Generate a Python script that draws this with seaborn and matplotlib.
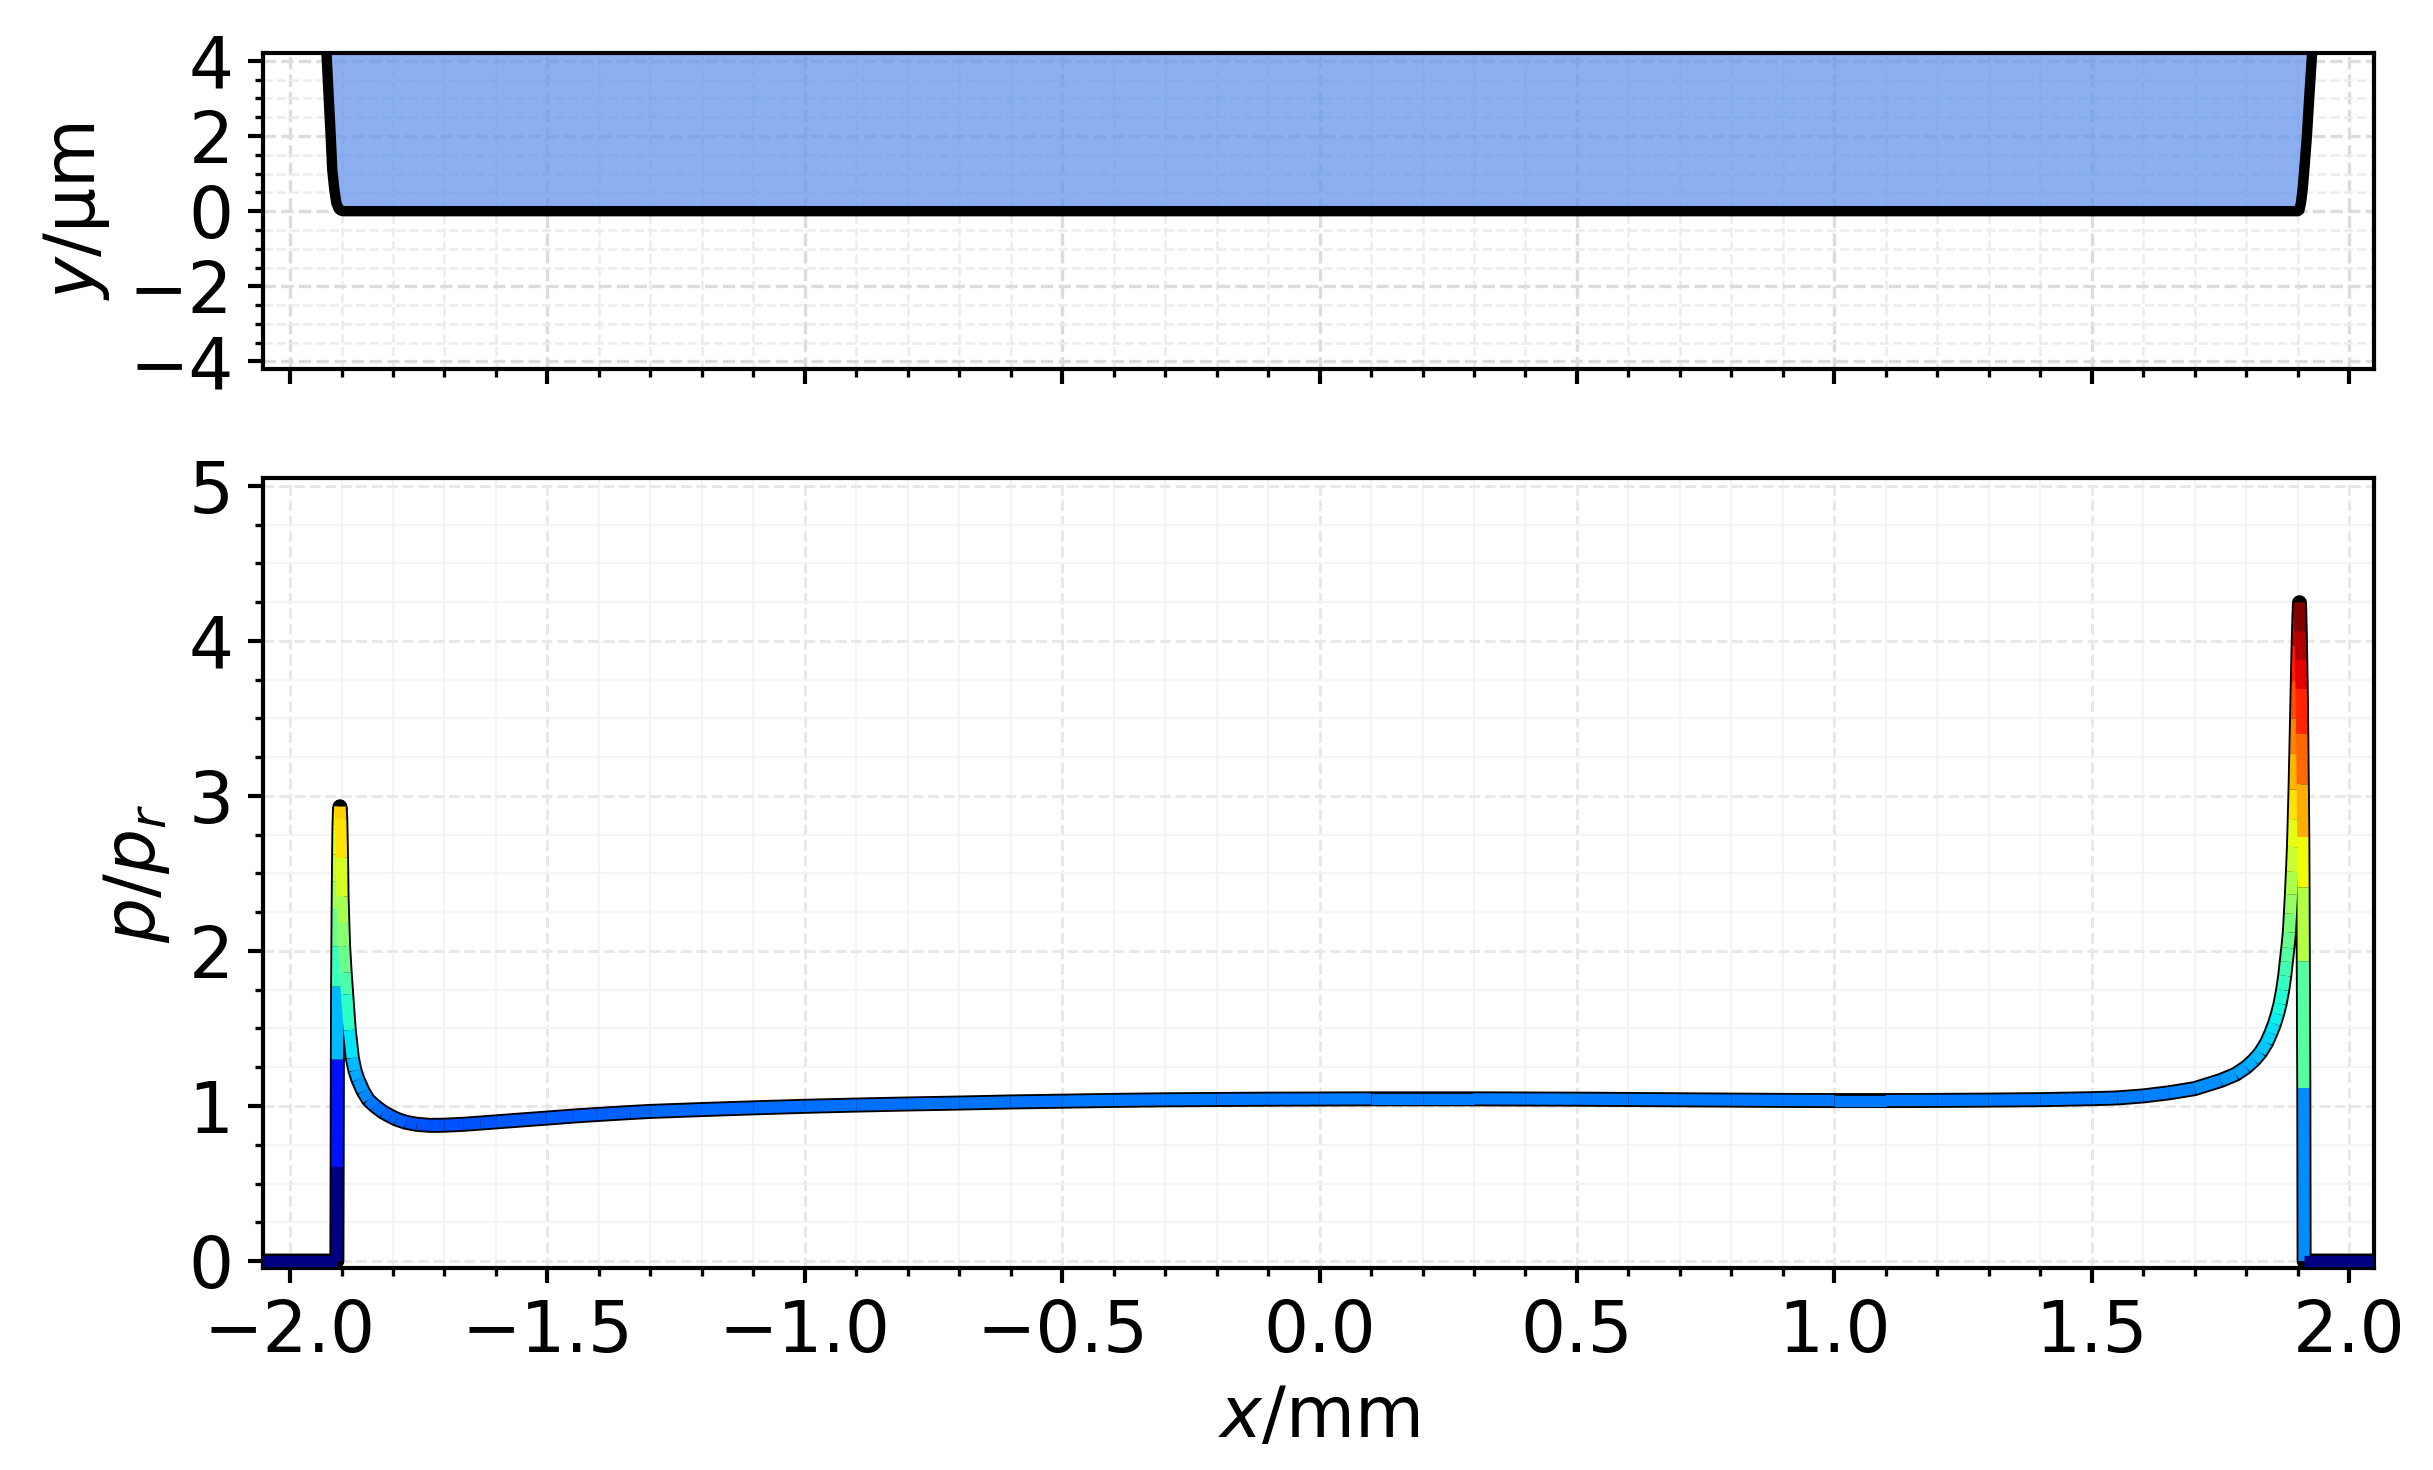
import numpy as np
import matplotlib
matplotlib.use("Agg")
import matplotlib.pyplot as plt
import seaborn as sns
import pandas as pd
from matplotlib.collections import LineCollection
from matplotlib.ticker import MultipleLocator

# ---------------- data ----------------
# top panel: surface profile y (um) vs x (mm)
h_x = [-1.938, -1.929, -1.925, -1.921, -1.918, -1.914, -1.910, -1.906, -1.903,
       -1.900, -1.896, 1.900, 1.9035, 1.9065, 1.9097, 1.913, 1.918, 1.9227,
       1.928, 1.938]
h_y = [6.5, 4.17, 3.06, 2.0, 1.11, 0.58, 0.22, 0.08, 0.03,
       0.01, 0.0, 0.0, 0.03, 0.22, 0.58, 1.11, 2.0, 3.06,
       4.17, 6.5]

# bottom panel: dimensionless pressure p/p_r vs x (mm)
p_x = [-2.10, -1.909, -1.9085, -1.908, -1.9075, -1.907, -1.9065, -1.906, -1.9055,
       -1.905, -1.904, -1.903, -1.9015, -1.900, -1.899, -1.8975, -1.896, -1.893,
       -1.890, -1.885, -1.879, -1.874, -1.868, -1.858, -1.848, -1.835, -1.819,
       -1.805, -1.793, -1.775, -1.754, -1.728, -1.70, -1.663, -1.63, -1.598,
       -1.55, -1.501, -1.45, -1.404, -1.339, -1.30, -1.2, -1.1, -1.0,
       -0.9, -0.8, -0.7, -0.6, -0.5, -0.4, -0.3, -0.2, -0.1,
       0.0, 0.1, 0.2, 0.3, 0.4, 0.5, 0.6, 0.7, 0.8,
       0.9, 1.0, 1.1, 1.2, 1.3, 1.4, 1.5, 1.55, 1.6,
       1.65, 1.7, 1.751, 1.78, 1.8, 1.815, 1.828, 1.84, 1.848,
       1.855, 1.861, 1.866, 1.871, 1.875, 1.878, 1.881, 1.884, 1.886,
       1.888, 1.890, 1.892, 1.8935, 1.895, 1.8965, 1.898, 1.8995, 1.901,
       1.9025, 1.9036, 1.905, 1.906, 1.907, 1.908, 1.909, 1.910, 1.9105,
       1.911, 1.912, 1.9126, 2.10]
p_val = [0.0, 0.0, 0.607, 1.30, 1.77, 2.03, 2.27, 2.45, 2.62,
         2.78, 2.90, 2.93, 2.85, 2.60, 2.35, 2.18, 2.03, 1.86,
         1.72, 1.49, 1.31, 1.23, 1.17, 1.095, 1.04, 1.0, 0.96,
         0.935, 0.915, 0.895, 0.882, 0.875, 0.876, 0.882, 0.89, 0.898,
         0.91, 0.922, 0.935, 0.945, 0.958, 0.965, 0.977, 0.988, 0.998,
         1.006, 1.013, 1.019, 1.026, 1.031, 1.036, 1.04, 1.042, 1.044,
         1.045, 1.046, 1.046, 1.046, 1.045, 1.044, 1.042, 1.04, 1.038,
         1.036, 1.035, 1.035, 1.036, 1.038, 1.041, 1.047, 1.052, 1.065,
         1.085, 1.112, 1.165, 1.205, 1.25, 1.295, 1.345, 1.41, 1.47,
         1.53, 1.594, 1.66, 1.748, 1.84, 1.93, 2.02, 2.12, 2.24,
         2.365, 2.51, 2.67, 2.85, 3.04, 3.27, 3.5, 3.74, 3.97,
         4.15, 4.246, 4.06, 3.876, 3.69, 3.40, 3.074, 2.735, 2.41,
         1.933, 1.116, 0.0, 0.0]

x_ticks = [-2.0, -1.5, -1.0, -0.5, 0.0, 0.5, 1.0, 1.5, 2.0]

# ---------------- style ----------------
sns.set_style("ticks", {"axes.edgecolor": "black", "xtick.color": "black",
                        "ytick.color": "black", "text.color": "black",
                        "axes.labelcolor": "black"})
plt.rcParams['font.family'] = ['DejaVu Sans']
plt.rcParams['mathtext.fontset'] = 'dejavusans'

FS = 17
fig = plt.figure(figsize=(2433 / 300, 1470 / 300), dpi=300)
ax1 = fig.add_axes([0.1081, 0.749, 0.8677, 0.2147])
ax2 = fig.add_axes([0.1081, 0.1374, 0.8677, 0.5374])

# ---------------- top panel ----------------
df_h = pd.DataFrame({"x": h_x, "y": h_y})
ax1.fill_between(df_h["x"], df_h["y"], 10, color="cornflowerblue", alpha=0.75,
                 lw=0, zorder=1)
sns.lineplot(data=df_h, x="x", y="y", sort=False, estimator=None, color="black",
             lw=2.5, ax=ax1, zorder=2)
ax1.set_xlim(-2.0525, 2.0486)
ax1.set_ylim(-4.2, 4.2)
ax1.xaxis.set_major_locator(MultipleLocator(0.5))
ax1.xaxis.set_minor_locator(MultipleLocator(0.1))
ax1.yaxis.set_major_locator(MultipleLocator(2))
ax1.yaxis.set_minor_locator(MultipleLocator(0.5))
ax1.set_axisbelow(True)
ax1.grid(which="major", ls="--", color="#dcdcdc", lw=0.8)
ax1.grid(which="minor", ls="--", color="#ececec", lw=0.6)
ax1.tick_params(axis="x", labelbottom=False)
ax1.set_xlabel("")
ax1.set_ylabel(r"$y$/μm", fontsize=FS)

# ---------------- bottom panel ----------------
df_p = pd.DataFrame({"x": p_x, "p": p_val})
sns.lineplot(data=df_p, x="x", y="p", sort=False, estimator=None, color="black",
             lw=3.6, ax=ax2, zorder=2, solid_capstyle="round",
             solid_joinstyle="round")
xa = np.asarray(p_x)
pa = np.asarray(p_val)
segs = np.stack([np.column_stack([xa[:-1], pa[:-1]]),
                 np.column_stack([xa[1:], pa[1:]])], axis=1)
lc = LineCollection(segs, cmap="jet", norm=plt.Normalize(0, pa.max()),
                    lw=2.7, capstyle="butt", zorder=3)
lc.set_array(pa[:-1])
ax2.add_collection(lc)
ax2.set_xlim(-2.0525, 2.0486)
ax2.set_ylim(-0.045, 5.05)
ax2.set_xticks(x_ticks)
ax2.xaxis.set_minor_locator(MultipleLocator(0.1))
ax2.yaxis.set_major_locator(MultipleLocator(1))
ax2.yaxis.set_minor_locator(MultipleLocator(0.25))
ax2.set_axisbelow(True)
ax2.grid(which="major", ls="--", color="#e8e8e8", lw=0.7)
ax2.grid(which="minor", ls="-", color="#f4f4f4", lw=0.5)
ax2.set_xlabel(r"$x$/mm", fontsize=FS)
ax2.set_ylabel(r"$p/p_r$", fontsize=FS)

for ax in (ax1, ax2):
    for s in ax.spines.values():
        s.set_visible(True)
        s.set_linewidth(1.0)
        s.set_color("black")
    ax.tick_params(which="major", length=3.6, width=1.0, labelsize=FS,
                   direction="out", left=True, bottom=True, top=False, right=False)
    ax.tick_params(which="minor", length=2.0, width=0.8, direction="out",
                   left=True, bottom=True, top=False, right=False)

fig.savefig("out.png", dpi=300)
